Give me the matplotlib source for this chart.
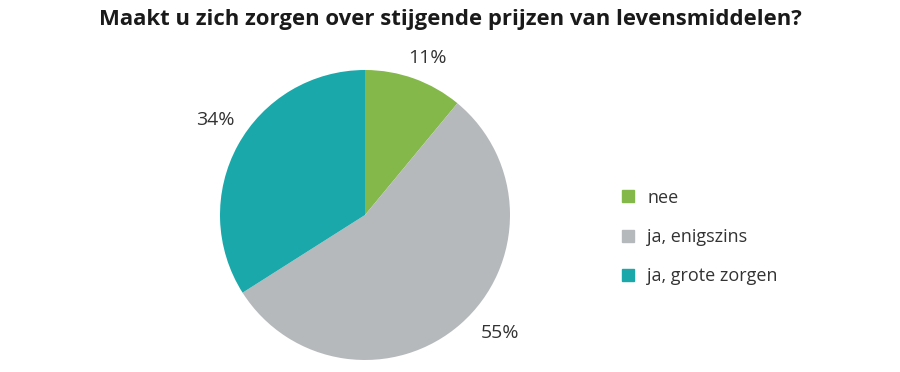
import numpy as np
import matplotlib.pyplot as plt
from matplotlib.lines import Line2D

categories = ["nee", "ja, enigszins", "ja, grote zorgen"]
values = [11, 55, 34]
colors = ["#84b84a", "#b6b9bb", "#1aa8aa"]

# label placement tweaks (style only)
label_radius = [1.166, 1.24, 1.22]
label_angle_shift = [-2.0, 7.4, -3.7]

fig = plt.figure(figsize=(9, 3.72), dpi=100)
fig.text(0.5, 0.948, "Maakt u zich zorgen over stijgende prijzen van levensmiddelen?",
         ha="center", va="center", fontsize=15.9, fontweight="bold",
         family="Open Sans", color="#1a1a1a")

ax = fig.add_axes([220 / 900, 12 / 372, 290 / 900, 290 / 372])
wedges, _ = ax.pie(values, colors=colors, startangle=90, counterclock=False,
                   radius=1.0, wedgeprops=dict(linewidth=0))
ax.set_xlim(-1, 1)
ax.set_ylim(-1, 1)
ax.set_aspect("equal")

for w, v, r, s in zip(wedges, values, label_radius, label_angle_shift):
    mid = np.deg2rad((w.theta1 + w.theta2) / 2 + s)
    ax.text(r * np.cos(mid), r * np.sin(mid), f"{v}%", ha="center", va="center",
            fontsize=14, family="Open Sans", color="#333333", clip_on=False)

handles = [Line2D([], [], marker="s", linestyle="none", markersize=9,
                  markerfacecolor=c, markeredgecolor=c) for c in colors]
leg = fig.legend(handles, categories, loc="center left", bbox_to_anchor=(603 / 900, 1 - 237 / 372),
                 frameon=False, prop={"family": "Open Sans", "size": 13},
                 labelspacing=1.18, handletextpad=0.55, handlelength=1.0)
for t in leg.get_texts():
    t.set_color("#333333")

fig.savefig("out.png", dpi=100)
